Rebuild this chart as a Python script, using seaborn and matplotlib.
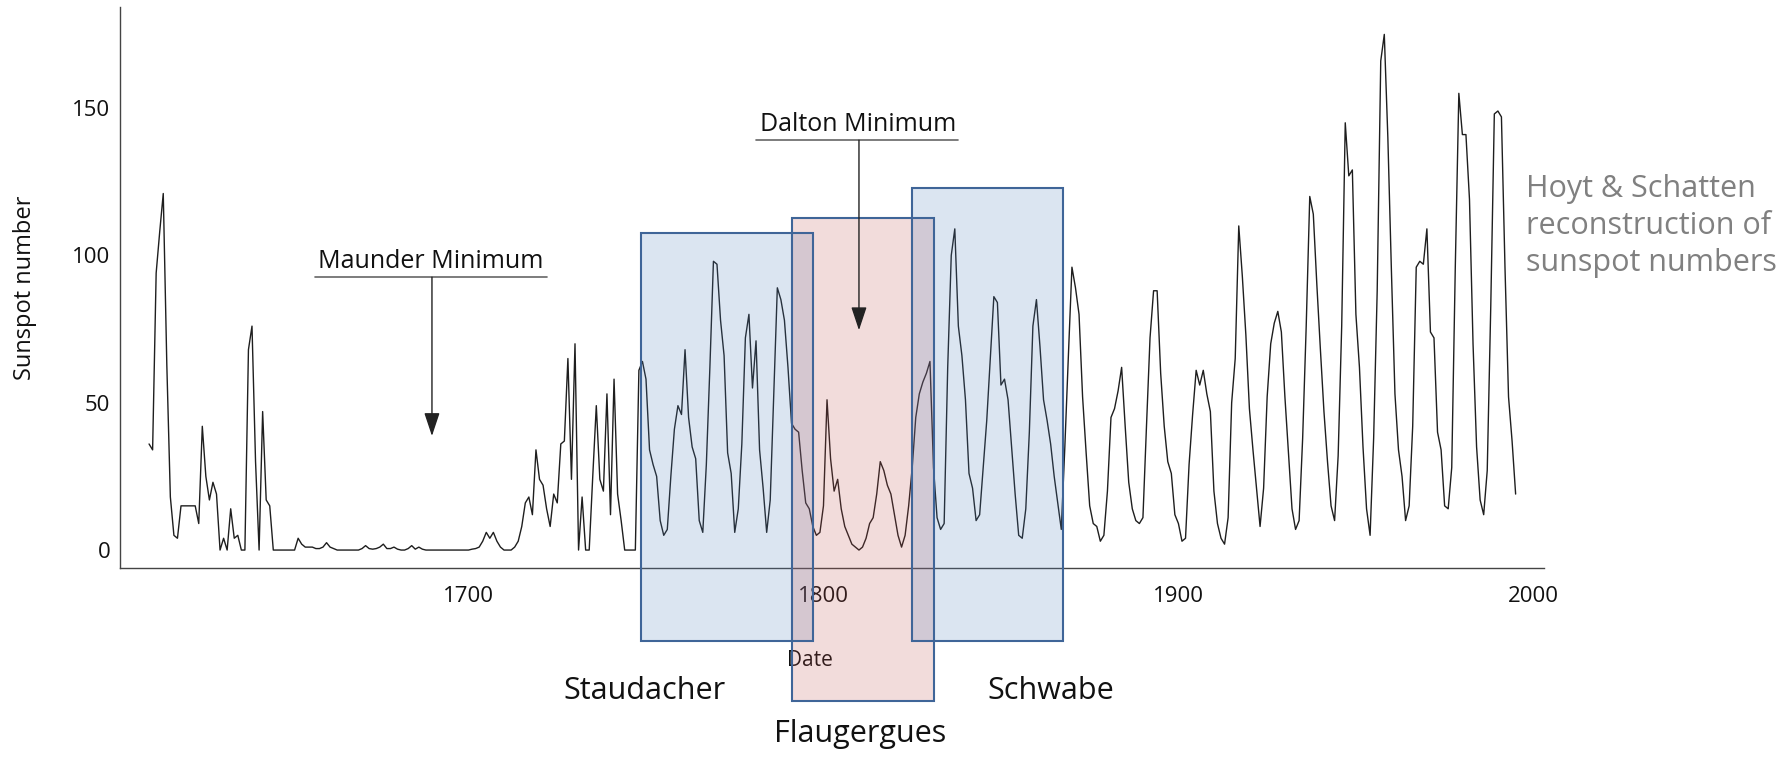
import numpy as np
import pandas as pd
import seaborn as sns
import matplotlib.pyplot as plt
from matplotlib.patches import Rectangle
from matplotlib.ticker import MultipleLocator

# Hoyt & Schatten group sunspot numbers, one value per year 1610-1995
years = list(range(1610, 1996))
sunspots = [
    36, 34, 94, 108, 121, 63, 18, 5, 4, 15,          # 1610s
    15, 15, 15, 15, 9, 42, 25, 17, 23, 19,           # 1620s
    0, 4, 0, 14, 4, 5, 0, 0, 68, 76,                 # 1630s
    30, 0, 47, 17, 15, 0, 0, 0, 0, 0,                # 1640s
    0, 0, 4, 2, 1, 1, 1, 0.5, 0.5, 1,                # 1650s
    2.5, 1, 0.5, 0, 0, 0, 0, 0, 0, 0,                # 1660s
    0.5, 1.5, 0.5, 0.3, 0.5, 1, 2, 0.5, 0.5, 1,      # 1670s
    0.3, 0, 0, 0.5, 1.5, 0.3, 1, 0.3, 0, 0,          # 1680s
    0, 0, 0, 0, 0, 0, 0, 0, 0, 0,                    # 1690s
    0, 0.3, 0.5, 1, 3, 6, 4, 6, 3, 1,                # 1700s
    0, 0, 0, 1, 3, 8, 16, 18, 12, 34,                # 1710s
    24, 22, 14, 8, 19, 16, 36, 37, 65, 24,           # 1720s
    70, 0, 18, 0, 0, 25, 49, 24, 20, 53,             # 1730s
    12, 58, 19, 10, 0, 0, 0, 0, 61, 64,              # 1740s
    58, 34, 29, 25, 10, 5, 7, 25, 41, 49,            # 1750s
    46, 68, 45, 35, 31, 10, 6, 29, 62, 98,           # 1760s
    97, 78, 66, 33, 26, 6, 14, 36, 72, 80,           # 1770s
    55, 71, 34, 21, 6, 17, 53, 89, 85, 78,           # 1780s
    62, 43, 41, 40, 27, 16, 14, 8, 5, 6,             # 1790s
    15, 51, 31, 20, 24, 14, 8, 5, 2, 1,              # 1800s
    0, 1, 4, 9, 11, 19, 30, 27, 22, 19,              # 1810s
    12, 5, 1, 5, 15, 28, 45, 53, 57, 60,             # 1820s
    64, 28, 11, 7, 9, 62, 100, 109, 76, 66,          # 1830s
    51, 26, 21, 10, 12, 28, 44, 65, 86, 84,          # 1840s
    56, 58, 51, 35, 19, 5, 4, 14, 40, 76,            # 1850s
    85, 69, 51, 44, 36, 25, 16, 7, 35, 66,           # 1860s
    96, 89, 80, 52, 33, 15, 9, 8, 3, 5,              # 1870s
    20, 45, 48, 54, 62, 42, 23, 14, 10, 9,           # 1880s
    11, 42, 72, 88, 88, 60, 42, 30, 26, 12,          # 1890s
    9, 3, 4, 29, 46, 61, 56, 61, 53, 47,             # 1900s
    20, 9, 4, 2, 11, 50, 65, 110, 93, 73,            # 1910s
    48, 34, 21, 8, 21, 52, 70, 77, 81, 74,           # 1920s
    52, 33, 14, 7, 10, 38, 76, 120, 114, 90,         # 1930s
    68, 47, 30, 15, 10, 32, 76, 145, 127, 129,       # 1940s
    80, 62, 35, 14, 5, 38, 88, 166, 175, 140,        # 1950s
    95, 53, 34, 25, 10, 15, 42, 96, 98, 97,          # 1960s
    109, 74, 72, 40, 34, 15, 14, 28, 96, 155,        # 1970s
    141, 141, 119, 70, 35, 17, 12, 27, 83, 148,      # 1980s
    149, 147, 96, 52, 37, 19,                        # 1990-1995
]

# observers and the years their boxes cover
observers = ["Staudacher", "Flaugergues", "Schwabe"]
obs_start = [1748.6, 1791.1, 1824.9]
obs_end = [1797.0, 1831.1, 1867.5]

# named minima and the year each arrow points at
minima = ["Maunder Minimum", "Dalton Minimum"]
minima_year = [1689.7, 1810.0]

x_ticks = [1700, 1800, 1900, 2000]
y_ticks = [0, 50, 100, 150]

sns.set_style("white")
plt.rcParams['font.family'] = ['Open Sans', 'DejaVu Sans']

fig = plt.figure(figsize=(17.85, 7.6), dpi=100)
ax = fig.add_axes([0.0672, 0.2526, 0.7978, 0.7382])

df = pd.DataFrame({"Date": years, "Sunspot number": sunspots})
sns.lineplot(data=df, x="Date", y="Sunspot number", ax=ax,
             color="#1e1e1e", linewidth=1.0, zorder=2)

ax.set_xlim(1601.8, 2003.0)
ax.set_ylim(-6.1, 184.3)

# axes look: only left and bottom, ticks pointing inwards
for side in ["top", "right"]:
    ax.spines[side].set_visible(False)
for side in ["left", "bottom"]:
    ax.spines[side].set_color("#444444")
    ax.spines[side].set_linewidth(1.0)

ax.set_xticks(x_ticks)
ax.set_yticks(y_ticks)
ax.xaxis.set_minor_locator(MultipleLocator(20))
ax.yaxis.set_minor_locator(MultipleLocator(10))
ax.tick_params(axis="both", which="both", direction="in", color="#555555", width=0.9)
ax.tick_params(axis="both", which="major", length=5, labelsize=16, labelcolor="#111111")
ax.tick_params(axis="both", which="minor", length=3)
ax.tick_params(axis="x", which="major", pad=13)
ax.tick_params(axis="y", which="major", pad=7)

ax.set_xlabel("Date", fontsize=15, color="#111111")
ax.xaxis.set_label_coords(0.4846, -0.146)
ax.set_ylabel("Sunspot number", fontsize=17, color="#111111")
ax.yaxis.set_label_coords(-0.058, 0.5)

# observer boxes (blue, pink, blue) drawn over the curve
box_y = [(-30.9, 107.6), (-51.2, 112.7), (-30.9, 122.8)]
box_face = ["#4f81bd", "#c0504d", "#4f81bd"]
label_pos = [(1749.7, -47.8), (1810.3, -62.4), (1864.1, -47.8)]
for name, x0, x1, (y0, y1), fc, (lx, ly) in zip(observers, obs_start, obs_end,
                                                 box_y, box_face, label_pos):
    ax.add_patch(Rectangle((x0, y0), x1 - x0, y1 - y0, facecolor=fc, alpha=0.2,
                           edgecolor="none", zorder=3, clip_on=False))
    ax.add_patch(Rectangle((x0, y0), x1 - x0, y1 - y0, facecolor="none",
                           edgecolor="#3f6598", linewidth=1.5, zorder=4, clip_on=False))
    ax.text(lx, ly, name, fontsize=22, color="#111111", ha="center", va="center",
            clip_on=False)

# minimum labels with underline and arrow
text_base = [95.7, 142.2]
line_y = [92.6, 139.1]
tip_y = [38.7, 74.6]
line_span = [(1656.8, 1722.2), (1781.0, 1837.9)]
for name, xm, tb, ly, ty, (l0, l1) in zip(minima, minima_year, text_base, line_y,
                                          tip_y, line_span):
    ax.text(xm - 0.3, tb, name, fontsize=18, color="#111111", ha="center",
            va="baseline", zorder=5)
    ax.plot([l0, l1], [ly, ly], color="#666666", linewidth=1.2, zorder=5)
    ax.annotate("", xy=(xm, ty), xytext=(xm, ly),
                arrowprops=dict(arrowstyle="-|>,head_length=0.6,head_width=0.2",
                                color="#222222", lw=1.0, mutation_scale=24,
                                shrinkA=0, shrinkB=0),
                zorder=5)

fig.text(0.855, 0.7026, "Hoyt & Schatten\nreconstruction of\nsunspot numbers",
         fontsize=22, color="#808080", ha="left", va="center", linespacing=1.3)

fig.savefig("out.png", dpi=100)
